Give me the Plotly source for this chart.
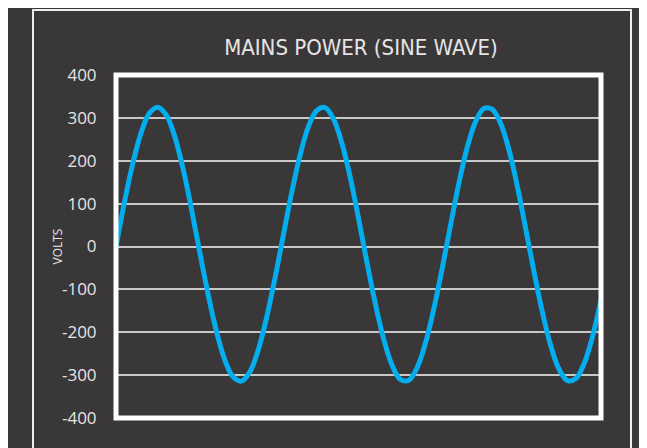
"""Mains power sine wave, dark panel style."""
import plotly.graph_objects as go

# time axis in ms, one sample per ms
time_ms = list(range(0, 59))
volts = [
    0, 102, 193, 265, 311, 325, 307, 258, 183, 90,
    -12, -110, -197, -264, -304, -314, -293, -242, -167, -75,
    25, 125, 212, 279, 317, 324, 298, 242, 162, 66,
    -36, -132, -215, -276, -310, -312, -283, -226, -146, -52,
    49, 147, 231, 291, 322, 320, 287, 225, 140, 41,
    -60, -154, -232, -287, -313, -308, -272, -209, -125,
]
y_ticks = [400, 300, 200, 100, 0, -100, -200, -300, -400]

BG = "#393737"
WIRE = "#00AEEF"
TEXT = "#E6E6E6"
GRID = "#C8C8C8"
TITLE_FONT = "'Liberation Sans Narrow', 'DejaVu Sans Condensed', sans-serif"
FONT = "'Open Sans', sans-serif"

fig = go.Figure(
    go.Scatter(
        x=time_ms,
        y=volts,
        mode="lines",
        line={"color": WIRE, "width": 5, "shape": "spline"},
        hoverinfo="skip",
    )
)

fig.update_layout(
    width=647,
    height=448,
    margin={"l": 108, "r": 54, "t": 67, "b": 38},
    paper_bgcolor=BG,
    plot_bgcolor=BG,
    showlegend=False,
    font={"family": FONT, "color": TEXT},
    title={
        "text": "MAINS POWER (SINE WAVE)",
        "x": 0.5456,
        "xanchor": "center",
        "y": 0.913,
        "yanchor": "middle",
        "font": {"size": 22, "color": TEXT, "family": TITLE_FONT},
    },
)

fig.update_xaxes(
    range=[0, 58],
    showgrid=False,
    zeroline=False,
    showticklabels=False,
    showline=False,
)
fig.update_yaxes(
    range=[-400, 400],
    tickvals=y_ticks,
    ticktext=[str(v) for v in y_ticks],
    tickfont={"size": 17, "color": TEXT},
    ticks="outside",
    ticklen=15,
    tickcolor="rgba(0,0,0,0)",
    showgrid=True,
    gridcolor=GRID,
    gridwidth=1.5,
    zeroline=True,
    zerolinecolor=GRID,
    zerolinewidth=1.5,
    showline=False,
)

# axis label sits close to the tick numbers
fig.add_annotation(
    text="VOLTS", xref="paper", yref="paper",
    x=-0.1216, y=0.5, xanchor="center", yanchor="middle", textangle=-90,
    showarrow=False, font={"size": 12, "color": TEXT},
)

# white box round the plot area
fig.add_shape(
    type="rect", xref="paper", yref="paper",
    x0=0, x1=1, y0=0, y1=1,
    line={"color": "#FFFFFF", "width": 5},
    layer="above",
)
# thin outer frame of the panel
fig.add_shape(
    type="rect", xref="paper", yref="paper",
    x0=-0.1711, x1=1.0619, y0=-0.1224, y1=1.1895,
    line={"color": "#F0F0F0", "width": 2},
    layer="above",
)

fig.write_html("out.html")
